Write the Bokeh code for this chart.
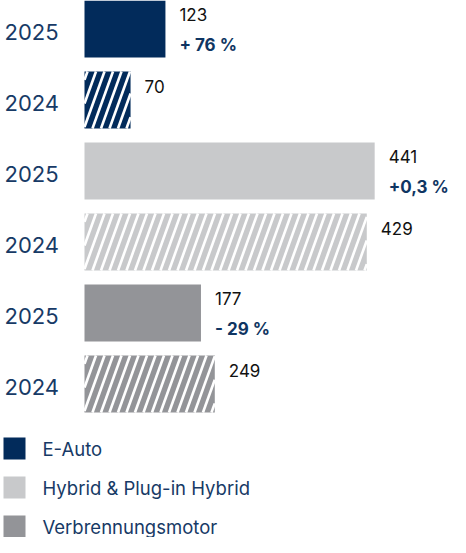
from bokeh.plotting import figure
from bokeh.models import ColumnDataSource, Range1d
from bokeh.core.properties import value
from bokeh.embed import file_html
from bokeh.resources import INLINE

# ---- data ----
categories = ["E-Auto", "Hybrid & Plug-in Hybrid", "Verbrennungsmotor"]
year_labels = ["2025", "2024"]
values_2025 = [123, 441, 177]
values_2024 = [70, 429, 249]
bar_2024_drawn = [70, 429, 198]   # bar lengths as drawn in the picture
change_labels = ["+ 76 %", "+0,3 %", "- 29 %"]
colors = ["#022b5b", "#c8c9cb", "#939498"]

# ---- layout ----
W, H = 450, 537
PX = 0.658          # pixels per unit
X0 = 84             # pixel where bars start
x_start = -X0 / PX
x_end = (W - X0) / PX
PITCH = 71
BAR_H = 57
FONT = "Inter"
NAVY_TXT = "#173a66"
STRIPE_STEP = 8.5   # px between stripes
STRIPE_SLANT = 0.36 # horizontal px per vertical px

p = figure(width=W, height=H, x_range=Range1d(x_start, x_end),
           y_range=Range1d(H, 0), output_backend="svg", toolbar_location=None,
           x_axis_location=None, y_axis_location=None, min_border=0)
p.grid.visible = False
p.outline_line_color = None
p.background_fill_color = None
p.border_fill_color = None

tops = [r * PITCH for r in range(6)]
top25 = [tops[2 * i] for i in range(3)]
top24 = [tops[2 * i + 1] for i in range(3)]

src25 = ColumnDataSource(dict(y=[t + BAR_H / 2 for t in top25], right=values_2025,
                              color=colors, vy=[t + 14 for t in top25],
                              py=[t + 44 for t in top25], yy=[t + 31 for t in top25],
                              lab=[str(v) for v in values_2025], pct=change_labels,
                              year=[year_labels[0]] * 3))
src24 = ColumnDataSource(dict(y=[t + BAR_H / 2 for t in top24], right=bar_2024_drawn,
                              color=colors, vy=[t + 15 for t in top24],
                              yy=[t + 31 for t in top24],
                              lab=[str(v) for v in values_2024],
                              year=[year_labels[1]] * 3))

p.hbar(y="y", left=0, right="right", height=BAR_H, fill_color="color",
       line_color=None, source=src25)
p.hbar(y="y", left=0, right="right", height=BAR_H, fill_color="color",
       line_color=None, source=src24)

# white diagonal stripes on the 2024 bars, clipped to each bar
sx0, sy0, sx1, sy1 = [], [], [], []
for t, v in zip(top24, bar_2024_drawn):
    T, B = t, t + BAR_H
    Lp, Rp = X0, X0 + v * PX
    dx = BAR_H * STRIPE_SLANT
    c = Lp - dx + 3
    while c < Rp:
        xa, ya = c, B
        xb, yb = c + dx, T
        if xa < Lp:
            ya = B - (Lp - c) / STRIPE_SLANT
            xa = Lp
        if xb > Rp:
            yb = B - (Rp - c) / STRIPE_SLANT
            xb = Rp
        if xb > xa:
            sx0.append((xa - X0) / PX); sy0.append(ya)
            sx1.append((xb - X0) / PX); sy1.append(yb)
        c += STRIPE_STEP
p.segment(x0=sx0, y0=sy0, x1=sx1, y1=sy1, line_color="white",
          line_width=2.6, line_cap="butt")

for src in (src25, src24):
    p.text(x="right", y="vy", text="lab", x_offset=14, source=src,
           text_font=value(FONT), text_font_size="17px", text_color="#111111",
           text_baseline="middle", text_align="left")
    p.text(x=x_start, y="yy", text="year", x_offset=4, source=src,
           text_font=value(FONT), text_font_size="22px", text_color=NAVY_TXT,
           text_baseline="middle", text_align="left")

p.text(x="right", y="py", text="pct", x_offset=14, source=src25,
       text_font=value(FONT), text_font_size="17px", text_font_style="bold",
       text_color="#0f3562", text_baseline="middle", text_align="left")

# legend (drawn manually)
leg_y = [437 + 11 + j * 39 for j in range(3)]
leg = ColumnDataSource(dict(x=[x_start + 14 / PX] * 3, tx=[x_start + 42 / PX] * 3,
                            y=leg_y, color=colors, label=categories))
p.rect(x="x", y="y", width=22, height=22, width_units="screen",
       height_units="screen", fill_color="color", line_color=None, source=leg)
p.text(x="tx", y="y", text="label", source=leg, text_font=value(FONT),
       text_font_size="18.5px", text_color=NAVY_TXT, text_baseline="middle",
       text_align="left")

open("out.html", "w").write(file_html(p, INLINE))
